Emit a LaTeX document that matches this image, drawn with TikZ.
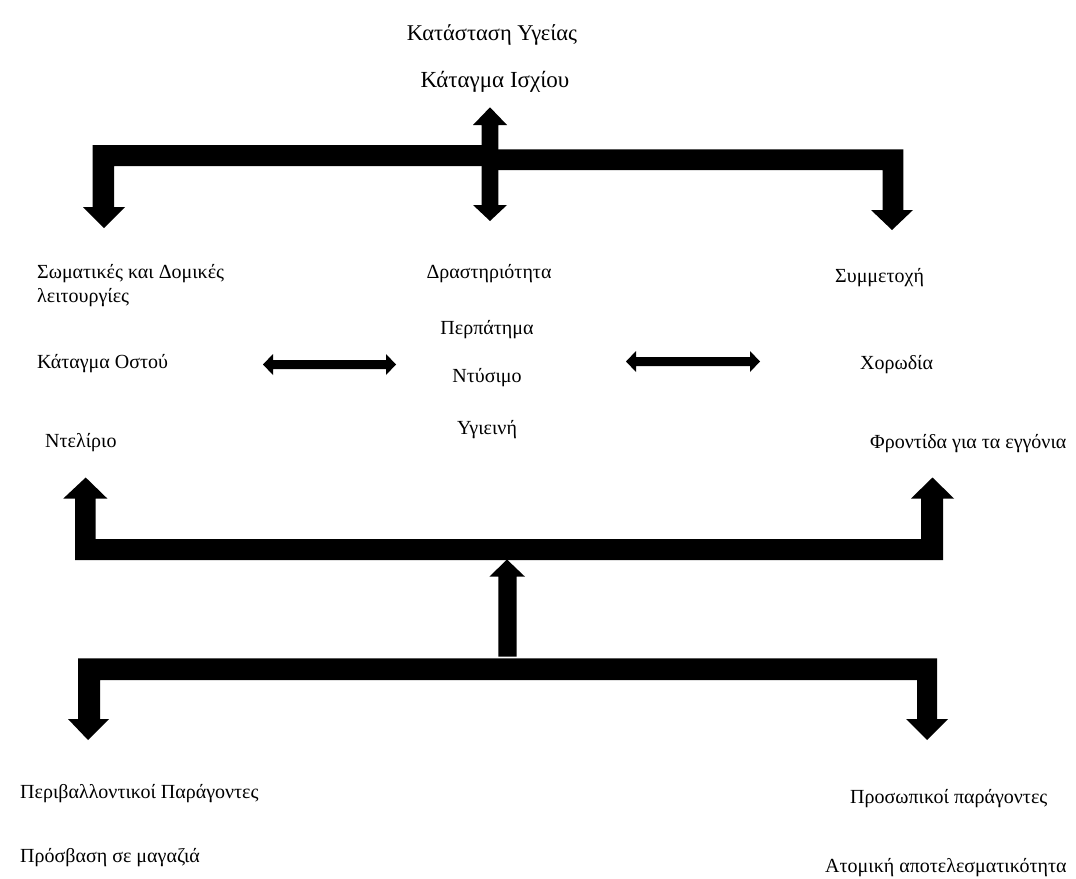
\documentclass[tikz,border=0pt]{standalone}
\usepackage{fontspec}
\setmainfont{Liberation Serif}
\begin{document}
\begin{tikzpicture}[x=1pt,y=-1pt,
  lbl/.style={inner sep=0pt,font=\fontsize{20}{24}\selectfont},
  lblw/.style={lbl,anchor=base west},
  lblc/.style={lbl,anchor=base},
  big/.style={font=\fontsize{22.5}{26}\selectfont},
  blk/.style={fill=black,draw=none}]
\useasboundingbox[fill=white] (0,0) rectangle (1076,878);

% texts
\node[lblc,big] (title) at (492,40) {Κατάσταση Υγείας};
\node[lblc,font=\fontsize{23}{26}\selectfont] (hip) at (495,87) {Κάταγμα Ισχίου};
\node[lblw] (body1) at (37,278) {Σωματικές και Δομικές};
\node[lblw] (body2) at (37,302) {λειτουργίες};
\node[lblc] (act) at (489,278) {Δραστηριότητα};
\node[lblw] (part) at (835,282) {Συμμετοχή};
\node[lblc] (walk) at (487,334) {Περπάτημα};
\node[lblw] (bone) at (37,368) {Κάταγμα Οστού};
\node[lblc] (dress) at (487,382) {Ντύσιμο};
\node[lblw] (choir) at (860,369) {Χορωδία};
\node[lblc] (hyg) at (487,434) {Υγιεινή};
\node[lblw] (delir) at (45,447) {Ντελίριο};
\node[lblw] (grand) at (870,448) {Φροντίδα για τα εγγόνια};
\node[lblw] (env) at (20,798) {Περιβαλλοντικοί Παράγοντες};
\node[lblw] (shop) at (20,862) {Πρόσβαση σε μαγαζιά};
\node[lblw] (pers) at (850,803) {Προσωπικοί παράγοντες};
\node[lblw] (eff) at (825,872) {Ατομική αποτελεσματικότητα};

% top block arrows
\fill[blk] (92.7,145) -- (482,145) -- (482,166) -- (114,166) -- (114,207) -- (125,207)
  -- (104,228) -- (83,207) -- (92.7,207) -- cycle;
\fill[blk] (498,149.3) -- (903.3,149.3) -- (903.3,210) -- (913,210) -- (892,230)
  -- (871,210) -- (882.7,210) -- (882.7,170) -- (498,170) -- cycle;
\fill[blk] (481.7,125) -- (473,125) -- (490,107.3) -- (507,125) -- (498.3,125)
  -- (498.3,205) -- (507,205) -- (490,221) -- (473,205) -- (481.7,205) -- cycle;

% middle double arrows
\fill[blk] (263,364.5) -- (273,354) -- (273,360) -- (386,360) -- (386,354) -- (396,364.5)
  -- (386,375) -- (386,369) -- (273,369) -- (273,375) -- cycle;
\fill[blk] (626,361.5) -- (636,351) -- (636,357) -- (750,357) -- (750,351) -- (760,361.5)
  -- (750,372) -- (750,366) -- (636,366) -- (636,372) -- cycle;

% lower middle block arrows
\fill[blk] (75,560) -- (943,560) -- (943,498.5) -- (954,498.5) -- (932.5,477.5) -- (911,498.5)
  -- (921,498.5) -- (921,539) -- (95.7,539) -- (95.7,498.5) -- (107.3,498.5) -- (85.7,477.5)
  -- (63.3,498.5) -- (75,498.5) -- cycle;
\fill[blk] (498.3,656.5) -- (516.7,656.5) -- (516.7,576.7) -- (525,576.7) -- (507,559.5)
  -- (489.3,576.7) -- (498.3,576.7) -- cycle;

% bottom block arrows
\fill[blk] (78,658.3) -- (937,658.3) -- (937,719) -- (948,719) -- (927,740) -- (906,719)
  -- (917,719) -- (917,680) -- (100,680) -- (100,719) -- (109,719) -- (88,740)
  -- (68,719) -- (78,719) -- cycle;
\end{tikzpicture}
\end{document}
